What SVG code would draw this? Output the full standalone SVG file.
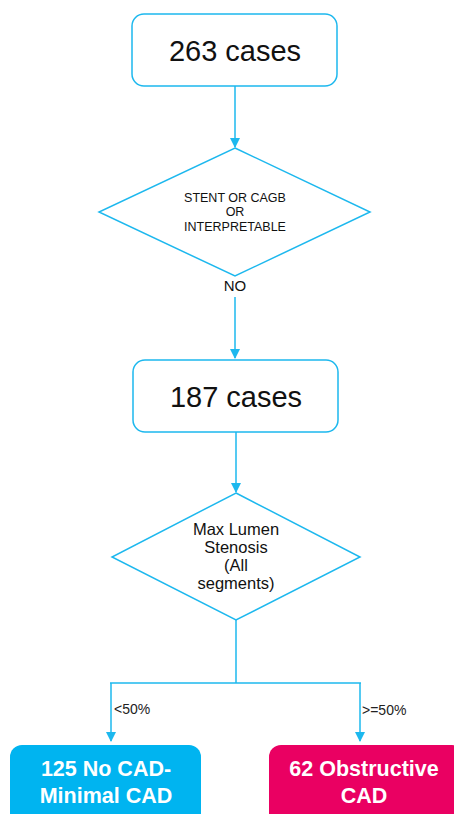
<svg xmlns="http://www.w3.org/2000/svg" width="454" height="814" viewBox="0 0 454 814">
<style>
.box{fill:#fff;stroke:#1DB8EE;stroke-width:1.5}
.dia{fill:#fff;stroke:#1DB8EE;stroke-width:1.5}
.ln{fill:none;stroke:#1DB8EE;stroke-width:1.5}
.t{font-family:"Liberation Sans",Arial,sans-serif;text-anchor:middle;fill:#111}
.big{font-size:29px}
.sm{font-size:12.5px}
.md{font-size:16.5px}
.lbl{font-family:"Liberation Sans",Arial,sans-serif;font-size:14px;fill:#222}
.wt{font-family:"Liberation Sans",Arial,sans-serif;font-size:21.5px;font-weight:bold;fill:#fff;text-anchor:middle}
</style>
<defs>
<marker id="ah" viewBox="0 0 10 10" refX="9" refY="5" markerWidth="10" markerHeight="10" markerUnits="userSpaceOnUse" orient="auto">
<path d="M0,0 L10,5 L0,10 z" fill="#1DB8EE"/>
</marker>
</defs>
<g id="connectors">
<line class="ln" x1="235" y1="86" x2="235" y2="147" marker-end="url(#ah)"/>
<line class="ln" x1="235" y1="297" x2="235" y2="358" marker-end="url(#ah)"/>
<line class="ln" x1="236" y1="432" x2="236" y2="492" marker-end="url(#ah)"/>
<polyline class="ln" points="236,620 236,683"/>
<line class="ln" x1="110" y1="683" x2="361" y2="683"/>
<line class="ln" x1="111" y1="683" x2="111" y2="741" marker-end="url(#ah)"/>
<line class="ln" x1="360" y1="683" x2="360" y2="741" marker-end="url(#ah)"/>
<text class="lbl" x="114" y="714">&lt;50%</text>
<text class="lbl" x="362" y="715">&gt;=50%</text>
</g>
<g id="n1">
<rect class="box" x="132" y="14" width="205" height="72" rx="12"/>
<text class="t big" x="235" y="61">263 cases</text>
</g>
<g id="d1">
<polygon class="dia" points="235,148 370,212 235,276 99,212"/>
<text class="t sm" x="235" y="202">STENT OR CAGB</text>
<text class="t sm" x="235" y="216">OR</text>
<text class="t sm" x="235" y="231">INTERPRETABLE</text>
<text class="t" font-size="15" x="235" y="291">NO</text>
</g>
<g id="n2">
<rect class="box" x="133" y="360" width="205" height="72" rx="12"/>
<text class="t big" x="236" y="407">187 cases</text>
</g>
<g id="d2">
<polygon class="dia" points="236,493 360,557 236,620 112,557"/>
<text class="t md" x="236" y="535">Max Lumen</text>
<text class="t md" x="236" y="553">Stenosis</text>
<text class="t md" x="236" y="571">(All</text>
<text class="t md" x="236" y="589">segments)</text>
</g>
<g id="n3">
<rect x="10" y="745" width="191" height="80" rx="12" fill="#00B4F0"/>
<text class="wt" x="106" y="776">125 No CAD-</text>
<text class="wt" x="106" y="803">Minimal  CAD</text>
</g>
<g id="n4">
<rect x="269" y="745" width="195" height="80" rx="12" fill="#EA0062"/>
<text class="wt" x="364" y="776">62 Obstructive</text>
<text class="wt" x="364" y="803">CAD</text>
</g>
</svg>
